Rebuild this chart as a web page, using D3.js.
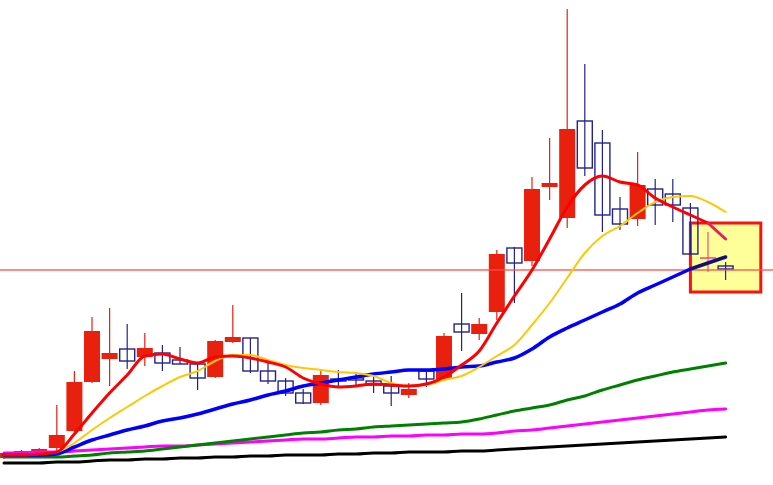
<!DOCTYPE html>
<html>
<head>
<meta charset="utf-8">
<script src="https://cdn.jsdelivr.net/npm/d3@7/dist/d3.min.js"></script>
<style>
html,body{margin:0;padding:0;background:#fff;overflow:hidden;}
svg{display:block;}
</style>
</head>
<body>
<svg id="chart" width="773" height="485"></svg>
<script>
// ---- data (price units) ----
const open  = [42,47,46,52,69,118,141,151,143,147,140,136,123,158,162,129,119,107,97,121,122,119,114,105,129,121,176,166,188,252,239,313,282,379,357,291,281,311,306,292,242,234];
const high  = [48,50,52,95,129,183,192,176,167,155,153,136,160,195,162,137,122,111,131,130,128,127,124,117,129,167,207,182,250,253,323,362,491,436,370,303,348,321,321,297,268,238];
const low   = [41,46,44,48,67,117,114,131,134,129,136,110,122,157,127,116,104,96,95,112,113,107,94,102,113,120,149,160,180,197,234,300,272,324,268,270,274,275,278,246,228,220];
const close = [47,49,51,65,118,169,147,139,152,137,136,122,159,163,129,119,107,97,125,119,120,115,107,111,121,164,168,176,246,237,311,317,371,332,285,276,315,295,295,246,242,231];

const maRed    = [45,45,46,48,66,87,107,125,144,146,141,137,143,144,142,138,133,122,116,113,114,116,115,114,116,123,135,149,177,204,230,261,293,315,324,318,315,302,293,285,277,261];
const maYellow = [45,45,46,48,57,70,82,93,104,114,123,129,139,145,145,140,135,132,130,128,127,124,117,114,115,120,124,133,144,155,175,197,222,247,264,274,287,298,303,304,298,288];
const maBlue   = [45,45,45,46,53,60,65,70,74,79,82,86,91,96,100,105,109,114,117,120,123,126,128,130,130,131,133,134,138,142,151,163,172,180,188,196,207,215,223,231,237,243];
const maGreen  = [43,43,43,43,44,45,47,48,49,51,53,55,57,59,61,63,65,67,68,70,71,73,74,75,76,77,78,81,85,89,92,95,100,104,110,115,120,124,128,131,134,137];
const maPink   = [47,47,48,48,49,50,51,52,53,54,54,55,56,57,58,59,60,61,61,62,63,63,64,64,65,65,66,66,67,69,70,72,74,76,78,80,82,84,86,88,90,91];
const maBlack  = [37,37,37,38,38,39,40,40,41,41,42,42,43,43,44,44,45,45,45,46,46,47,47,48,48,48,49,49,50,51,52,53,54,55,56,57,58,59,60,61,62,63];

const hLineLevel = 230;
const boxIndex = [39, 43];
const boxPrice = [208, 277];

// ---- scales ----
const W = 773, H = 485;
const svg = d3.select("#chart");
const days = d3.range(open.length);
const x = d3.scaleLinear().domain([0, 43]).range([4, 4 + 17.6 * 43]);
const y = d3.scaleLinear().domain([15, 500]).range([485, 0]);
const bodyW = 16;

// highlight box
svg.append("rect")
  .attr("x", x(boxIndex[0])).attr("y", y(boxPrice[1]))
  .attr("width", x(boxIndex[1]) - x(boxIndex[0]))
  .attr("height", y(boxPrice[0]) - y(boxPrice[1]))
  .attr("fill", "#ffff99").attr("stroke", "#ff1010").attr("stroke-width", 3);

const redC = "#e8200d", blueC = "#22228f", dojiC = "#ee4f80";
function col(i){
  if (open[i] === close[i]) return dojiC;
  return close[i] > open[i] ? redC : blueC;
}

// candles
const g = svg.append("g");
days.forEach(i => {
  const c = col(i);
  g.append("line")
    .attr("x1", x(i)).attr("x2", x(i))
    .attr("y1", y(high[i])).attr("y2", y(low[i]))
    .attr("stroke", c).attr("stroke-width", 1.2);
  const top = y(Math.max(open[i], close[i]));
  const bot = y(Math.min(open[i], close[i]));
  if (open[i] === close[i]) {
    g.append("line").attr("x1", x(i) - bodyW/2).attr("x2", x(i) + bodyW/2)
      .attr("y1", top).attr("y2", top).attr("stroke", c).attr("stroke-width", 1.6);
  } else if (close[i] > open[i]) {
    g.append("rect").attr("x", x(i) - bodyW/2).attr("y", top)
      .attr("width", bodyW).attr("height", Math.max(1.5, bot - top))
      .attr("fill", c);
  } else {
    g.append("rect").attr("x", x(i) - bodyW/2 + 0.5).attr("y", top)
      .attr("width", bodyW - 1).attr("height", Math.max(1, bot - top))
      .attr("fill", "none").attr("stroke", c).attr("stroke-width", 1.4);
  }
});

// horizontal level line
svg.append("line").attr("x1", 0).attr("x2", W)
  .attr("y1", y(hLineLevel)).attr("y2", y(hLineLevel))
  .attr("stroke", "#ff4a4a").attr("stroke-width", 1.4).attr("opacity", 0.85);

// moving averages
function drawMA(arr, color, w, lastN, lastColor){
  const n = arr.length;
  const pts = arr.map((v, i) => [x(i), y(v)]);
  const ln = d3.line().curve(d3.curveMonotoneX);
  const main = pts.slice(0, lastN > 1 ? n - lastN + 1 : n);
  svg.append("path").attr("d", ln(main))
    .attr("fill", "none").attr("stroke", color).attr("stroke-width", w)
    .attr("stroke-linejoin", "round").attr("stroke-linecap", "round");
  if (lastN > 1) {
    svg.append("path").attr("d", ln(pts.slice(n - lastN)))
      .attr("fill", "none").attr("stroke", lastColor).attr("stroke-width", w)
      .attr("stroke-linecap", "round");
  }
}
drawMA(maBlack, "#000000", 3, 0);
drawMA(maPink, "#ff00ff", 3, 0);
drawMA(maGreen, "#008000", 3, 0);
drawMA(maBlue, "#0000ff", 3.5, 3, "#101080");
drawMA(maYellow, "#ffc800", 2, 0);
drawMA(maRed, "#ff0000", 3, 2, "#e8205a");
</script>
</body>
</html>
